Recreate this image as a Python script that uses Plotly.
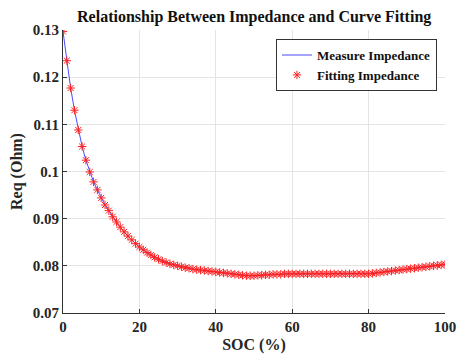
import plotly.graph_objects as go

soc = list(range(0, 101))
measure_req = [
    0.1297, 0.1235, 0.1177, 0.1130, 0.1088, 0.1053, 0.1024, 0.0999, 0.0978, 0.0961,
    0.0944, 0.0929, 0.0917, 0.0904, 0.0893, 0.0882, 0.0872, 0.0863, 0.0855, 0.0847,
    0.0840, 0.0834, 0.0828, 0.0823, 0.0818, 0.0814, 0.0810, 0.0807, 0.0804, 0.0802,
    0.0800, 0.0798, 0.0796, 0.0795, 0.0793, 0.0792, 0.0791, 0.0790, 0.0789, 0.0788,
    0.0787, 0.0786, 0.0785, 0.0784, 0.0783, 0.0782, 0.0781, 0.0780, 0.0779, 0.0779,
    0.0779, 0.0780, 0.0780, 0.0781, 0.0781, 0.0782, 0.0782, 0.0782, 0.0783, 0.0783,
    0.0783, 0.0783, 0.0783, 0.0783, 0.0783, 0.0783, 0.0783, 0.0783, 0.0783, 0.0783,
    0.0783, 0.0783, 0.0783, 0.0783, 0.0783, 0.0783, 0.0783, 0.0783, 0.0783, 0.0783,
    0.0783, 0.0784, 0.0785, 0.0786, 0.0787, 0.0788, 0.0789, 0.0790, 0.0791, 0.0792,
    0.0793, 0.0794, 0.0795, 0.0796, 0.0797, 0.0798, 0.0799, 0.0800, 0.0801, 0.0802,
    0.0803,
]
fitting_req = list(measure_req)

x_ticks = [0, 20, 40, 60, 80, 100]
y_ticks = [0.07, 0.08, 0.09, 0.1, 0.11, 0.12, 0.13]
y_tick_text = ["0.07", "0.08", "0.09", "0.1", "0.11", "0.12", "0.13"]

FONT = "Liberation Serif"

fig = go.Figure()
fig.add_trace(go.Scatter(
    x=soc, y=measure_req, mode="lines", name="<b>Measure Impedance</b>",
    line=dict(color="#4a4aff", width=1),
))
fig.add_trace(go.Scatter(
    x=soc, y=fitting_req, mode="markers", name="<b>Fitting Impedance</b>",
    marker=dict(symbol="asterisk-open", size=7, color="#ff2020",
                line=dict(color="#ff2020", width=1)),
))

fig.update_layout(
    width=458, height=354,
    margin=dict(l=63, r=13, t=30, b=41),
    paper_bgcolor="white", plot_bgcolor="white",
    title=dict(text="<b>Relationship Between Impedance and Curve Fitting</b>",
               x=0.555, xanchor="center", y=0.955, yanchor="middle",
               font=dict(family=FONT, size=16, color="#111111")),
    font=dict(family=FONT, color="#262626"),
    legend=dict(x=0.979, y=0.968, xanchor="right", yanchor="top",
                bgcolor="white", bordercolor="#333333", borderwidth=1,
                font=dict(family=FONT, size=13, color="#111111"),
                tracegroupgap=0, itemwidth=30),
    showlegend=True,
)
fig.update_xaxes(
    range=[0, 100], tickvals=x_ticks, ticktext=[f"<b>{v}</b>" for v in x_ticks],
    showgrid=True, gridcolor="#e4e4e4", gridwidth=1,
    showline=True, linecolor="#333333", linewidth=1,
    ticks="inside", ticklen=4, tickcolor="#333333",
    tickfont=dict(family=FONT, size=15, color="#262626"),
    title=dict(text="<b>SOC (%)</b>", font=dict(family=FONT, size=16, color="#262626"), standoff=4),
    zeroline=False, automargin=False,
)
fig.update_yaxes(
    range=[0.07, 0.13], tickvals=y_ticks, ticktext=[f"<b>{t}</b>" for t in y_tick_text],
    showgrid=True, gridcolor="#e4e4e4", gridwidth=1,
    showline=True, linecolor="#333333", linewidth=1,
    ticks="inside", ticklen=4, tickcolor="#333333",
    tickfont=dict(family=FONT, size=15, color="#262626"),
    title=dict(text="<b>Req (Ohm)</b>", font=dict(family=FONT, size=16, color="#262626"), standoff=6),
    zeroline=False, automargin=False,
)

fig.write_html("out.html")
